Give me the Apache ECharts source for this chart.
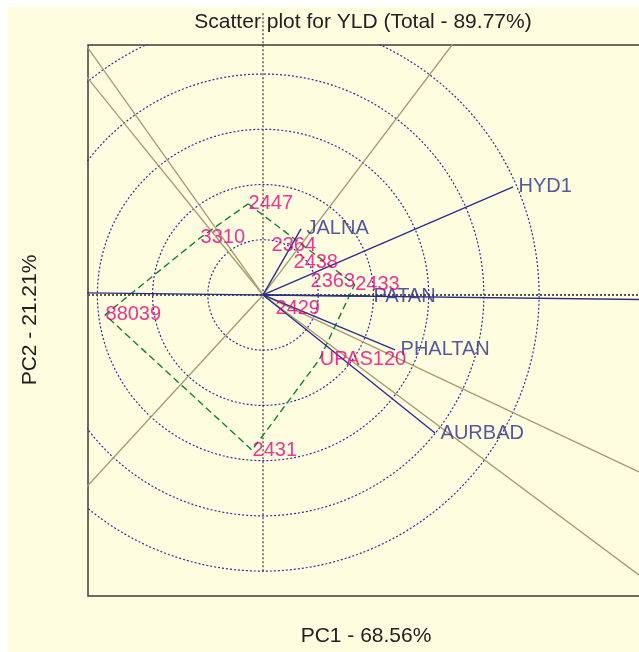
<!DOCTYPE html>
<html>
<head>
<meta charset="utf-8">
<script src="https://cdn.jsdelivr.net/npm/echarts@6/dist/echarts.min.js"></script>
<style>
  html, body { margin: 0; padding: 0; background: #ffffff; overflow: hidden; }
  #wrap { position: relative; width: 639px; height: 652px; overflow: hidden; }
  #bg { position: absolute; left: 8px; top: 7px; width: 700px; height: 700px; background: #FFFDE0; }
  #chart { position: absolute; left: 0; top: 0; width: 720px; height: 652px; }
</style>
</head>
<body>
<div id="wrap"><div id="bg"></div><div id="chart"></div></div>
<script>
// ---------- data (PC1 / PC2 scores) ----------
const genotypes = ['2447', '3310', '2364', '2438', '2363', '2433', '2429', 'UPAS120', '2431', '88039'];
const genoPC1   = [-0.27, -1.14, 0.145, 0.543, 0.851, 1.66, 0.217, 1.02, -0.199, -2.862];
const genoPC2   = [ 1.65,  1.033, 0.888, 0.58, 0.236, 0.19, -0.236, -1.17, -2.808, -0.36];

const environments = ['HYD1', 'JALNA', 'PATAN', 'PHALTAN', 'AURBAD'];
const envPC1 = [4.529, 0.688, 1.90, 2.391, 3.116];
const envPC2 = [1.957, 1.196, -0.02, -0.996, -2.50];

// polygon (convex hull) vertices, in order
const hullOrder = ['2447', '2433', 'UPAS120', '2431', '88039', '3310'];

// concentric circle radii
const circleRadii = [1, 2, 3, 4, 5];

// long environment line crossing the origin (end off to the right)
const crossLinePC1 = [-3.2, 7.6];
const crossLinePC2 = [0.038, -0.09];

const titleText = 'Scatter plot for YLD (Total - 89.77%)';
const xName = 'PC1 - 68.56%';
const yName = 'PC2 - 21.21%';

// axis extents
const xMin = -3.17, xMax = 7.19;
const yMin = -5.45, yMax = 4.525;

// ---------- build ----------
const FONT = "'Liberation Sans', Arial, sans-serif";
const C_GENO = '#E8007F';
const C_ENV = '#2B2E8E';
const C_RAY = '#A69C72';
const C_HULL = '#17803A';
const C_CIRC = '#2F2FA0';

const series = [];

// circles
circleRadii.forEach(r => {
  const pts = [];
  for (let a = 0; a <= 360; a += 2) {
    const t = a * Math.PI / 180;
    pts.push([r * Math.cos(t), r * Math.sin(t)]);
  }
  series.push({
    type: 'line', data: pts, symbol: 'none', silent: true, z: 1,
    lineStyle: { color: C_CIRC, width: 1.2, type: [2, 2] }
  });
});

// dotted reference axes
series.push({
  type: 'line', data: [[xMin, 0], [xMax, 0]], symbol: 'none', silent: true, z: 2,
  lineStyle: { color: '#5C5A4C', width: 2, type: [2, 2] }
});
series.push({
  type: 'line', data: [[0, 5.1], [0, -5.0]], symbol: 'none', silent: true, z: 2, clip: false,
  lineStyle: { color: '#222', width: 1.1, type: [2, 2] }
});

// perpendicular rays from origin to hull sides
const gIdx = name => genotypes.indexOf(name);
for (let i = 0; i < hullOrder.length; i++) {
  const a = gIdx(hullOrder[i]), b = gIdx(hullOrder[(i + 1) % hullOrder.length]);
  const ax = genoPC1[a], ay = genoPC2[a], bx = genoPC1[b], by = genoPC2[b];
  let nx = -(by - ay), ny = (bx - ax);
  if (nx * ax + ny * ay < 0) { nx = -nx; ny = -ny; }
  const len = Math.hypot(nx, ny);
  series.push({
    type: 'line', data: [[0, 0], [nx / len * 20, ny / len * 20]], symbol: 'none', silent: true, z: 3,
    lineStyle: { color: C_RAY, width: 1.4 }
  });
}

// hull polygon
const hullPts = hullOrder.concat([hullOrder[0]]).map(n => [genoPC1[gIdx(n)], genoPC2[gIdx(n)]]);
series.push({
  type: 'line', data: hullPts, symbol: 'none', silent: true, z: 4,
  lineStyle: { color: C_HULL, width: 1.4, type: [7, 4] }
});

// cross line
series.push({
  type: 'line', data: [[crossLinePC1[0], crossLinePC2[0]], [crossLinePC1[1], crossLinePC2[1]]],
  symbol: 'none', silent: true, z: 5, lineStyle: { color: C_ENV, width: 1.4 }
});

// environment vectors
environments.forEach((e, i) => {
  series.push({
    type: 'line', data: [[0, 0], [envPC1[i], envPC2[i]]], symbol: 'none', silent: true, z: 5,
    lineStyle: { color: C_ENV, width: 1.4 }
  });
});
series.push({
  type: 'scatter', z: 6, symbolSize: 1, itemStyle: { color: 'rgba(0,0,0,0)' },
  data: environments.map((e, i) => ({ name: e, value: [envPC1[i], envPC2[i]] })),
  label: { show: true, position: 'right', distance: 5, formatter: p => p.name,
    color: C_ENV, fontSize: 20, fontFamily: FONT }
});

// genotype labels
series.push({
  type: 'scatter', z: 7, symbolSize: 1, itemStyle: { color: 'rgba(0,0,0,0)' },
  data: genotypes.map((g, i) => ({ name: g, value: [genoPC1[i], genoPC2[i]] })),
  label: { show: true, position: 'right', distance: 0, formatter: p => p.name,
    color: C_GENO, fontSize: 20, fontFamily: FONT }
});

const chart = echarts.init(document.getElementById('chart'), null, { renderer: 'canvas', width: 720, height: 652 });
chart.setOption({
  animation: false,
  grid: { left: 88, top: 45, width: 572, height: 551, show: true,
    borderColor: '#3D3D35', borderWidth: 1.5, backgroundColor: 'transparent' },
  xAxis: { type: 'value', min: xMin, max: xMax, axisLine: { show: false }, axisTick: { show: false },
    axisLabel: { show: false }, splitLine: { show: false } },
  yAxis: { type: 'value', min: yMin, max: yMax, axisLine: { show: false }, axisTick: { show: false },
    axisLabel: { show: false }, splitLine: { show: false } },
  graphic: [
    { type: 'text', x: 363, y: 22, z: 100, style: { text: titleText, fill: '#222', font: '21px ' + FONT,
      textAlign: 'center', textVerticalAlign: 'middle' } },
    { type: 'text', x: 366, y: 636, z: 100, style: { text: xName, fill: '#222', font: '21px ' + FONT,
      textAlign: 'center', textVerticalAlign: 'middle' } },
    { type: 'text', x: 30, y: 320, rotation: Math.PI / 2, z: 100, style: { text: yName, fill: '#222',
      font: '21px ' + FONT, textAlign: 'center', textVerticalAlign: 'middle' } }
  ],
  series: series
});
</script>
</body>
</html>
